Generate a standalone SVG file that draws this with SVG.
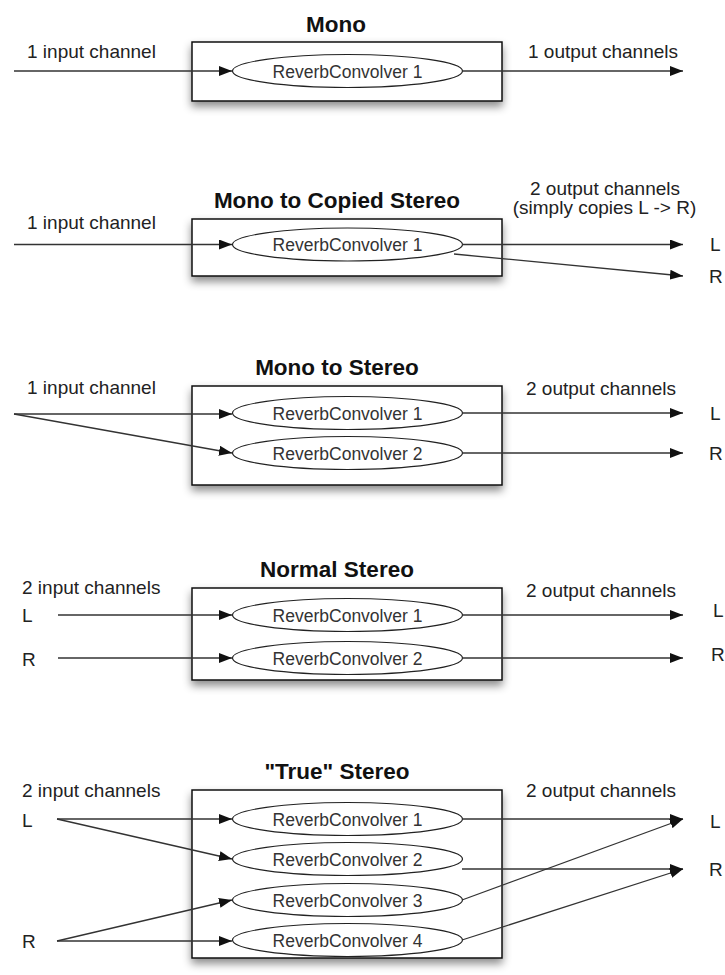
<svg xmlns="http://www.w3.org/2000/svg" width="725" height="975" viewBox="0 0 725 975">
<style>
text{font-family:"Liberation Sans",Arial,sans-serif;fill:#222}
.t{font-size:22.5px;font-weight:bold;text-anchor:middle;fill:#111}
.l{font-size:19px}
.n{font-size:17.5px;text-anchor:middle;fill:#333}
.box{fill:#fff;stroke:#111;stroke-width:1.5}
.el{fill:#fff;stroke:#222;stroke-width:1.2}
.c{fill:none;stroke:#333;stroke-width:1.3}
</style>
<defs>
<marker id="a" viewBox="0 0 13 10" refX="13" refY="5" markerWidth="13" markerHeight="10" markerUnits="userSpaceOnUse" orient="auto"><path d="M0,0 L13,5 L0,10 z" fill="#111"/></marker>
<filter id="sh" x="-10%" y="-10%" width="120%" height="150%"><feDropShadow dx="0" dy="5" stdDeviation="4" flood-color="#000" flood-opacity="0.45"/></filter>
</defs>

<g id="sec1">
<text class="t" x="336" y="32">Mono</text>
<rect class="box" x="192" y="42" width="310" height="59" filter="url(#sh)"/>
<g id="m_rc1"><ellipse class="el" cx="347.5" cy="71" rx="115" ry="16.5"/><text class="n" x="347.5" y="77.5">ReverbConvolver 1</text></g>
<text class="l" x="27" y="58">1 input channel</text>
<text class="l" x="528" y="58">1 output channels</text>
</g>

<g id="sec2">
<text class="t" x="337" y="208">Mono to Copied Stereo</text>
<rect class="box" x="192" y="219" width="310" height="57" filter="url(#sh)"/>
<g id="mc_rc1"><ellipse class="el" cx="347.5" cy="244.5" rx="115" ry="16.5"/><text class="n" x="347.5" y="251">ReverbConvolver 1</text></g>
<text class="l" x="27" y="229">1 input channel</text>
<text class="l" x="605" y="195" text-anchor="middle">2 output channels</text>
<text class="l" x="604.5" y="214" text-anchor="middle">(simply copies L -&gt; R)</text>
<text class="l" x="710" y="251">L</text>
<text class="l" x="709" y="283">R</text>
</g>

<g id="sec3">
<text class="t" x="337" y="375">Mono to Stereo</text>
<rect class="box" x="192" y="386" width="310" height="99" filter="url(#sh)"/>
<g id="ms_rc1"><ellipse class="el" cx="347.5" cy="413" rx="115" ry="16.5"/><text class="n" x="347.5" y="419.5">ReverbConvolver 1</text></g>
<g id="ms_rc2"><ellipse class="el" cx="347.5" cy="453" rx="115" ry="16.5"/><text class="n" x="347.5" y="459.5">ReverbConvolver 2</text></g>
<text class="l" x="27" y="394">1 input channel</text>
<text class="l" x="526" y="395">2 output channels</text>
<text class="l" x="710" y="420">L</text>
<text class="l" x="709" y="460">R</text>
</g>

<g id="sec4">
<text class="t" x="337" y="577">Normal Stereo</text>
<rect class="box" x="192" y="588" width="310" height="92" filter="url(#sh)"/>
<g id="ns_rc1"><ellipse class="el" cx="347.5" cy="615" rx="115" ry="16.5"/><text class="n" x="347.5" y="621.5">ReverbConvolver 1</text></g>
<g id="ns_rc2"><ellipse class="el" cx="347.5" cy="658" rx="115" ry="16.5"/><text class="n" x="347.5" y="664.5">ReverbConvolver 2</text></g>
<text class="l" x="22" y="594">2 input channels</text>
<text class="l" x="22" y="622">L</text>
<text class="l" x="22" y="666">R</text>
<text class="l" x="526" y="597">2 output channels</text>
<text class="l" x="713" y="617">L</text>
<text class="l" x="711" y="661">R</text>
</g>

<g id="sec5">
<text class="t" x="337" y="779">"True" Stereo</text>
<rect class="box" x="192" y="790" width="310" height="168" filter="url(#sh)"/>
<g id="ts_rc1"><ellipse class="el" cx="347.5" cy="819" rx="115" ry="16.5"/><text class="n" x="347.5" y="825.5">ReverbConvolver 1</text></g>
<g id="ts_rc2"><ellipse class="el" cx="347.5" cy="859" rx="115" ry="16.5"/><text class="n" x="347.5" y="865.5">ReverbConvolver 2</text></g>
<g id="ts_rc3"><ellipse class="el" cx="347.5" cy="900" rx="115" ry="16.5"/><text class="n" x="347.5" y="906.5">ReverbConvolver 3</text></g>
<g id="ts_rc4"><ellipse class="el" cx="347.5" cy="940" rx="115" ry="16.5"/><text class="n" x="347.5" y="946.5">ReverbConvolver 4</text></g>
<text class="l" x="22" y="797">2 input channels</text>
<text class="l" x="22" y="827">L</text>
<text class="l" x="22" y="948">R</text>
<text class="l" x="526" y="797">2 output channels</text>
<text class="l" x="710" y="828">L</text>
<text class="l" x="709" y="876">R</text>
</g>

<g id="connectors">
<path class="c" d="M14,71 H232" marker-end="url(#a)"/>
<path class="c" d="M462,71 H683" marker-end="url(#a)"/>

<path class="c" d="M14,244.5 H232" marker-end="url(#a)"/>
<path class="c" d="M462,244.5 H683" marker-end="url(#a)"/>
<path class="c" d="M454,254 L683,276" marker-end="url(#a)"/>

<path class="c" d="M14,414 H232" marker-end="url(#a)"/>
<path class="c" d="M14,414 L232,453" marker-end="url(#a)"/>
<path class="c" d="M462,413 H683" marker-end="url(#a)"/>
<path class="c" d="M462,453 H683" marker-end="url(#a)"/>

<path class="c" d="M58,615 H232" marker-end="url(#a)"/>
<path class="c" d="M58,658 H232" marker-end="url(#a)"/>
<path class="c" d="M462,615 H683" marker-end="url(#a)"/>
<path class="c" d="M462,658 H683" marker-end="url(#a)"/>

<path class="c" d="M57,819 H232" marker-end="url(#a)"/>
<path class="c" d="M57,819 L232,859" marker-end="url(#a)"/>
<path class="c" d="M57,941 L232,900" marker-end="url(#a)"/>
<path class="c" d="M57,941 H232" marker-end="url(#a)"/>
<path class="c" d="M462,819 H683" marker-end="url(#a)"/>
<path class="c" d="M462,869 H683" marker-end="url(#a)"/>
<path class="c" d="M462,900 L683,819" marker-end="url(#a)"/>
<path class="c" d="M462,940 L683,869" marker-end="url(#a)"/>
</g>
</svg>
